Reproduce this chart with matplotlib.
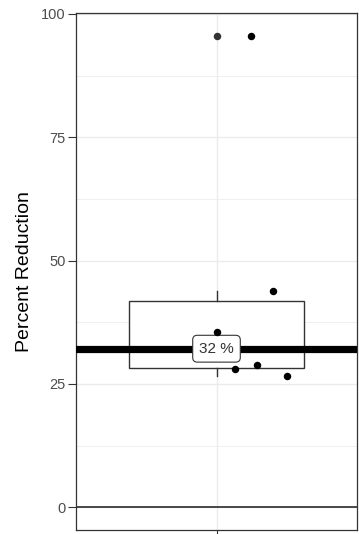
import matplotlib
matplotlib.use("Agg")
import matplotlib.pyplot as plt
import numpy as np

plt.rcParams['font.family'] = ['Liberation Sans', 'DejaVu Sans']

# Data
values = [95.6, 43.8, 35.5, 28.8, 28.1, 26.6]
jitter = [0.147, 0.243, 0.003, 0.171, 0.081, 0.299]
y_ticks = [0, 25, 50, 75, 100]
y_label = "Percent Reduction"

median = float(np.median(values))

fig = plt.figure(figsize=(3.59, 5.34), dpi=100)
ax = fig.add_axes([76/359, 1-530/534, 281/359, 517/534])

ax.set_xlim(0.4, 1.6)
ax.set_ylim(-4.6, 100.2)

# grid
for y in [12.5, 37.5, 62.5, 87.5]:
    ax.axhline(y, color='#EBEBEB', lw=0.55, zorder=0)
for y in y_ticks:
    ax.axhline(y, color='#EBEBEB', lw=1.0, zorder=0)
ax.axvline(1, color='#EBEBEB', lw=1.0, zorder=0)

# zero line
ax.axhline(0, color='#1a1a1a', lw=1.1, zorder=1)

# boxplot
ax.boxplot([values], positions=[1], widths=0.75, whis=1.5, patch_artist=True,
           boxprops=dict(facecolor='white', edgecolor='#333333', lw=1.0),
           medianprops=dict(color='#333333', lw=1.0),
           whiskerprops=dict(color='#333333', lw=1.0),
           capprops=dict(lw=0), showcaps=False,
           flierprops=dict(marker='o', markerfacecolor='#333333', markeredgecolor='#333333',
                           markeredgewidth=0, markersize=5.4),
           zorder=2, manage_ticks=False)

# thick median line
ax.axhline(median, color='black', lw=5.2, zorder=3)

# label
ax.text(1, median, f"{median:.0f} %", ha='center', va='center', fontsize=11, color='#333333', zorder=4,
        bbox=dict(boxstyle='round,pad=0.42,rounding_size=0.3', facecolor='white', edgecolor='#333333', lw=0.8))

# jittered points
ax.scatter([1 + j for j in jitter], values, s=29, color='black', zorder=5, linewidths=0)

ax.set_yticks(y_ticks)
ax.set_yticklabels([str(t) for t in y_ticks])
ax.set_xticks([1])
ax.set_xticklabels([''])
ax.tick_params(axis='both', length=5.5, width=0.8, color='#333333', labelcolor='#4D4D4D', labelsize=10.5, pad=2)
for s in ax.spines.values():
    s.set_color('#333333')
    s.set_linewidth(0.9)

ax.set_ylabel(y_label, fontsize=14, color='black')
ax.yaxis.set_label_coords(-0.153, 0.5)

fig.savefig("out.png", dpi=100)
